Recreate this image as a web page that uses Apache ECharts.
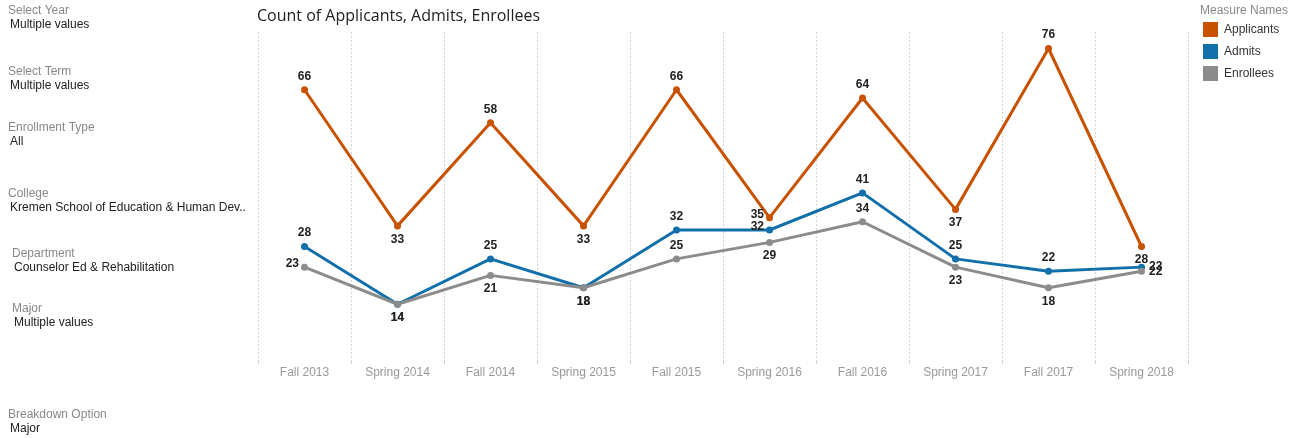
<!DOCTYPE html>
<html>
<head>
<meta charset="utf-8">
<script src="https://cdn.jsdelivr.net/npm/echarts@6/dist/echarts.min.js"></script>
<style>
	html, body { margin: 0; padding: 0; background: #fff; }
	#main_chart { width: 1306px; height: 438px; }
</style>
</head>
<body>
<div id="main_chart"></div>
<script>
var terms = ["Fall 2013", "Spring 2014", "Fall 2014", "Spring 2015", "Fall 2015",
	"Spring 2016", "Fall 2016", "Spring 2017", "Fall 2017", "Spring 2018"];
var applicants = [66, 33, 58, 33, 66, 35, 64, 37, 76, 28];
var admits = [28, 14, 25, 18, 32, 32, 41, 25, 22, 23];
var enrollees = [23, 14, 21, 18, 25, 29, 34, 23, 18, 22];

// where each value label sits
var applicantsPos = ["top", "bottom", "top", "bottom", "top", "left", "top", "bottom", "top", "bottom"];
var admitsPos = ["top", "bottom", "top", "bottom", "top", "left", "top", "top", "top", "right"];
var enrolleesPos = ["left", "bottom", "bottom", "bottom", "top", "bottom", "top", "bottom", "bottom", "right"];

var filters = [
	["Select Year", "Multiple values", 8, 9],
	["Select Term", "Multiple values", 8, 70],
	["Enrollment Type", "All", 8, 126],
	["College", "Kremen School of Education & Human Dev..", 8, 192],
	["Department", "Counselor Ed & Rehabilitation", 12, 252],
	["Major", "Multiple values", 12, 307],
	["Breakdown Option", "Major", 8, 413]
];

function makePoints(values, pos) {
	var arr = [];
	for (var i = 0; i < values.length; i++) {
		var item = { value: values[i], label: { position: pos[i] } };
		if (pos[i] == "left") {
			item.label.offset = [2, -3];
		}
		arr.push(item);
	}
	return arr;
}

function makeSeries(name, color, values, pos) {
	return {
		name: name,
		type: 'line',
		data: makePoints(values, pos),
		symbol: 'circle',
		symbolSize: 7,
		lineStyle: { width: 3, color: color },
		itemStyle: { color: color },
		label: {
			show: true,
			color: '#222',
			fontSize: 12,
			fontWeight: 'bold',
			fontFamily: 'Liberation Sans',
			distance: 4
		}
	};
}

var graphics = [];
for (var i = 0; i < filters.length; i++) {
	var f = filters[i];
	graphics.push({
		type: 'text', left: f[2], top: f[3] - 4,
		style: { text: f[0], fill: '#888', fontSize: 12, fontFamily: 'Liberation Sans' }
	});
	graphics.push({
		type: 'text', left: f[2] + 2, top: f[3] + 10,
		style: { text: f[1], fill: '#222', fontSize: 12, fontFamily: 'Liberation Sans' }
	});
}
graphics.push({
	type: 'text', left: 1200, top: 5,
	style: { text: 'Measure Names', fill: '#888', fontSize: 12, fontFamily: 'Liberation Sans' }
});

var chart = echarts.init(document.getElementById('main_chart'));

var option = {
	animation: false,
	title: {
		text: 'Count of Applicants, Admits, Enrollees',
		left: 252,
		top: 3,
		textStyle: { fontSize: 16, fontWeight: 'normal', color: '#222', fontFamily: 'Open Sans' }
	},
	legend: {
		orient: 'vertical',
		left: 1198,
		top: 17,
		icon: 'rect',
		itemWidth: 15,
		itemHeight: 15,
		itemGap: 7,
		textStyle: { fontSize: 12, color: '#333', fontFamily: 'Liberation Sans', padding: [0, 0, 0, 1] },
		data: ['Applicants', 'Admits', 'Enrollees']
	},
	graphic: graphics,
	grid: { left: 258, right: 118, top: 32, bottom: 76 },
	xAxis: {
		type: 'category',
		data: terms,
		boundaryGap: true,
		axisLine: { show: false },
		axisTick: { show: true, length: 4, lineStyle: { color: '#ccc', type: [2, 2] } },
		axisLabel: { color: '#999', fontSize: 12, fontFamily: 'Liberation Sans', margin: 5 },
		splitLine: { show: true, lineStyle: { color: '#d4d4d4', type: [2, 2], width: 1 } }
	},
	yAxis: {
		type: 'value',
		min: 0,
		max: 80,
		show: false
	},
	series: [
		makeSeries('Applicants', '#c85200', applicants, applicantsPos),
		makeSeries('Admits', '#1170aa', admits, admitsPos),
		makeSeries('Enrollees', '#8c8c8c', enrollees, enrolleesPos)
	]
};

chart.setOption(option);
</script>
</body>
</html>
